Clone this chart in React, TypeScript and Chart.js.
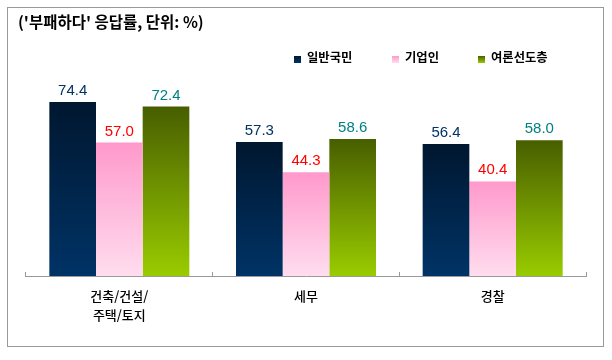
import React, { useEffect, useRef } from "react";
import { Chart, registerables } from "chart.js";

Chart.register(...registerables);

const categories: (string | string[])[] = [["건축/건설/", "주택/토지"], "세무", "경찰"];
const seriesNames = ["일반국민", "기업인", "여론선도층"];
const publicValues = [74.4, 57.3, 56.4];
const businessValues = [57.0, 44.3, 40.4];
const leaderValues = [72.4, 58.6, 58.0];
const titleText = "('부패하다' 응답률, 단위: %)";

const gradTop = ["#00172F", "#FF99CC", "#485E00"];
const gradBottom = ["#003366", "#FFDDEE", "#99CC00"];
const labelColors = ["#003366", "#FF0000", "#008080"];

const KR = "'Noto Sans CJK KR', 'Noto Sans', sans-serif";

const barGradient = (i: number) => (ctx: any) => {
  const chart = ctx.chart;
  if (!chart.chartArea || ctx.type !== "data" || !chart.scales.y) return gradBottom[i];
  const y = chart.scales.y;
  const yTop = y.getPixelForValue(ctx.raw);
  const yBot = y.getPixelForValue(0);
  if (!isFinite(yTop) || !isFinite(yBot) || yTop === yBot) return gradBottom[i];
  const g = chart.ctx.createLinearGradient(0, yTop, 0, yBot);
  g.addColorStop(0, gradTop[i]);
  g.addColorStop(1, gradBottom[i]);
  return g;
};

const decorPlugin = {
  id: "decor",
  afterDraw(chart: any) {
    const c = chart.ctx as CanvasRenderingContext2D;
    c.save();
    // frame
    c.strokeStyle = "#999999";
    c.lineWidth = 1;
    c.strokeRect(7.5, 7.5, 596, 339);
    // title
    c.fillStyle = "#000";
    c.font = `bold 15.5px ${KR}`;
    c.textAlign = "left";
    c.textBaseline = "middle";
    c.fillText(titleText, 18, 22);
    // legend
    const xs = [294, 392, 478];
    seriesNames.forEach((name, i) => {
      const g = c.createLinearGradient(0, 56, 0, 63);
      g.addColorStop(0, gradTop[i]);
      g.addColorStop(1, gradBottom[i]);
      c.fillStyle = g;
      c.fillRect(xs[i], 56, 7, 7);
      c.fillStyle = "#000";
      c.font = `bold 12.3px ${KR}`;
      c.textBaseline = "middle";
      c.fillText(name, xs[i] + 13, 57);
    });
    c.restore();
  },
  afterDatasetsDraw(chart: any) {
    const c = chart.ctx as CanvasRenderingContext2D;
    c.save();
    c.font = "15px 'Liberation Sans Narrow', 'Liberation Sans', Arial, sans-serif";
    c.textAlign = "center";
    c.textBaseline = "alphabetic";
    chart.data.datasets.forEach((ds: any, i: number) => {
      const meta = chart.getDatasetMeta(i);
      c.fillStyle = labelColors[i];
      meta.data.forEach((el: any, j: number) => {
        c.fillText(ds.data[j].toFixed(1), el.x, el.y - 7);
      });
    });
    c.restore();
  },
};

export default function App() {
  const ref = useRef<HTMLCanvasElement>(null);
  useEffect(() => {
    if (!ref.current) return;
    const chart = new Chart(ref.current, {
      type: "bar",
      data: {
        labels: categories,
        datasets: [
          { label: seriesNames[0], data: publicValues, backgroundColor: barGradient(0) },
          { label: seriesNames[1], data: businessValues, backgroundColor: barGradient(1) },
          { label: seriesNames[2], data: leaderValues, backgroundColor: barGradient(2) },
        ],
      },
      options: {
        responsive: false,
        animation: false,
        layout: { padding: { left: 26, right: 26, top: 42, bottom: 0 } },
        plugins: { legend: { display: false }, title: { display: false }, tooltip: { enabled: false } },
        datasets: { bar: { barPercentage: 1, categoryPercentage: 0.75, borderWidth: 0 } },
        scales: {
          x: {
            grid: { display: true, drawOnChartArea: false, drawTicks: true, tickLength: -4, color: "#999999", offset: true },
            border: { display: true, color: "#999999", width: 1 },
            ticks: { color: "#000", font: { family: KR, size: 13, weight: "500", lineHeight: 1.5 }, padding: 14, maxRotation: 0 },
            afterFit: (s: any) => { s.height = 84; },
          },
          y: { display: false, min: 0, max: 100 },
        },
      },
      plugins: [decorPlugin],
    });
    return () => chart.destroy();
  }, []);
  return (
    <div style={{ position: "absolute", left: 0, top: 0, width: 612, height: 360, background: "#fff" }}>
      <canvas ref={ref} width={612} height={360} style={{ display: "block" }} />
    </div>
  );
}
